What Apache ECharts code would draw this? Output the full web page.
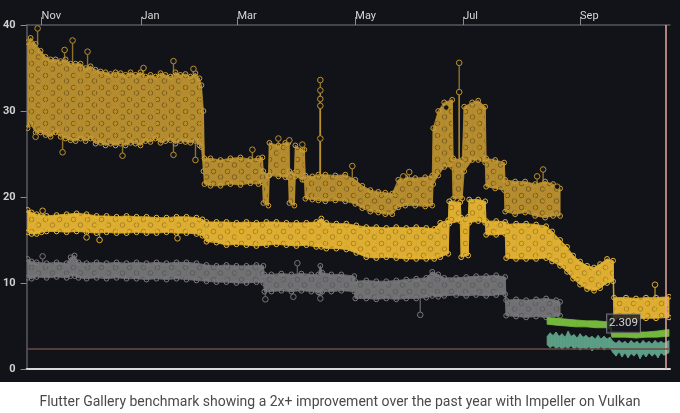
<!DOCTYPE html>
<html>
<head>
<meta charset="utf-8">
<script src="https://cdn.jsdelivr.net/npm/echarts@6/dist/echarts.min.js"></script>
<style>html,body{margin:0;padding:0;background:#fff}#c{width:680px;height:413px}</style>
</head>
<body>
<div id="c"></div>
<script>
// ---- x axis (commit index) ticks and labels ----
const monthTickIdx = [15, 115, 211, 329, 437, 554];
const monthLabels = ['Nov', 'Jan', 'Mar', 'May', 'Jul', 'Sep'];
const yTicks = [0, 10, 20, 30, 40];
const caption = 'Flutter Gallery benchmark showing a 2x+ improvement over the past year with Impeller on Vulkan';

// ---- upper gold series (range of samples per commit window) ----
const goldX = [1,4,9,14,19,24,29,34,39,44,49,54,59,64,69,74,79,84,89,94,99,104,109,114,119,124,129,134,139,144,149,154,159,164,169,173,175,177,178,184,194,204,214,224,232,236,237,242,243,252,259,262,263,268,269,276,278,279,286,292,299,309,319,329,336,344,352,359,366,372,379,389,399,406,407,412,418,426,427,436,438,446,452,459,460,469,478,479,489,499,509,519,527,534];
const goldLow = [28,28.5,27.5,27.5,27.2,27,27.5,27,26.8,26.6,26.5,26.8,26.5,26.8,26.2,26.3,26,26.2,26,26.2,26,26.3,26.2,26,26.5,26.4,26.8,26.3,26.5,26.6,26.2,26.5,26.4,26.3,26.5,26,25.8,23,21.5,21.3,21.3,21.5,21.4,21.6,21.5,21.7,19.3,19,22.5,22.4,22.3,22.3,19.3,19,22.4,22,22,19.8,19.7,19.6,19.5,19.6,19.5,19.2,18.7,18.3,18.2,18,18,18.8,19,19,18.9,19,21.5,22.5,23.5,23.5,19.8,19.8,23,24.3,24.3,24,21.2,21,20.8,18.3,18,18.2,17.8,17.6,17.8,17.8];
const goldHigh = [38,38.5,37.8,37,36.3,36,36,35.8,36,35.5,35.5,35.5,35,35.2,34.8,34.6,34.5,34.3,34.5,34.4,34.2,34.5,34.2,34.5,34,34.2,34,34.4,34.2,34,34.5,34.2,34.3,34,34.4,33.8,33,30,24.5,24.5,24.3,24.5,24.6,24.4,24.5,24.6,23,22.5,26.3,26,26.3,26.3,23,22.8,26,25.5,25.5,22.5,22.4,22.6,22.6,22.5,22.6,22,21.3,20.8,20.6,20.5,20.4,22,22.3,22.2,22.3,22.5,28,30,31,31.3,24.5,24.3,30.5,31,31.2,30.5,24.5,24.3,24,22,21.8,21.8,21.5,21.8,21.5,21];
const goldOutX = [9,11,36,38,46,61,96,117,147,147,167,169,226,252,263,276,294,294,294,294,294,326,377,383,420,433,433,511,517,531];
const goldOutY = [27.0,39.6,25.2,37.1,38.2,36.9,24.8,35.0,35.8,24.9,34.9,24.3,25.5,26.8,26.6,26.1,33.6,32.4,31.4,30.6,26.8,23.6,22.4,22.9,30.4,35.6,32.2,22.4,23.2,21.2];

// ---- lower yellow series ----
const yelX = [1,5,10,15,20,30,40,50,60,70,80,90,100,110,120,130,140,150,160,170,176,180,190,200,210,220,230,240,250,260,270,280,290,295,300,310,320,330,340,350,360,370,380,390,400,408,414,422,423,434,435,442,443,452,459,460,470,479,480,490,500,510,520,526,534,541,547,554,561,568,574,581,587,588,600,610,620,630,643];
const yelLow = [15.9,15.7,15.7,15.9,16,16,15.9,16,15.9,15.8,15.9,15.8,15.8,15.9,15.8,15.8,15.9,15.8,15.8,15.7,15.5,14.8,14.7,14.4,14.5,14.4,14.3,14.4,14.5,14.4,14.3,14.4,14.2,14.2,14,14,13.9,13.5,13,12.9,13,12.9,12.8,12.8,12.8,12.8,13,13.4,16.9,17.2,13,13.2,17,17.2,17,15.6,15.6,15.7,12.9,12.8,12.8,12.8,12.9,12.5,12,11.3,10.5,9.8,9.3,9.1,9.4,10,10.2,5.9,6,5.8,5.9,5.9,6];
const yelHigh = [18.5,18.2,18,17.9,17.8,17.9,18,18.1,18,17.8,17.8,17.7,17.8,17.7,17.7,17.6,17.6,17.7,17.7,17.6,17.4,17.1,17.1,17.1,17,17.1,17,17.1,17.1,17,17,17,17.1,17.5,17,16.9,16.9,16.7,16.5,16.5,16.4,16.5,16.4,16.5,16.4,16.3,17,17.3,19.5,19.4,17.6,17.7,19.7,19.7,19.5,17.2,17.2,17.1,16.8,16.9,16.9,16.8,16.6,16,15,14.2,13.2,12.5,12,11.8,12.2,12.8,12.6,8.3,8.3,8.2,8.3,8.3,8.4];
const yelOutX = [16,60,73,151,629];
const yelOutY = [18.4,15.3,15.0,15.2,9.8];

// ---- gray series ----
const grayX = [1,5,10,20,30,40,44,48,52,60,70,80,90,100,110,120,130,140,150,160,170,180,190,200,210,220,230,237,238,245,255,265,275,285,292,294,296,305,315,328,329,340,350,360,370,380,390,400,406,412,418,430,440,450,460,470,479,480,490,500,510,520,530,534];
const grayLow = [10.6,10.5,10.7,10.6,10.7,10.6,10.8,10.8,10.6,10.5,10.6,10.5,10.6,10.5,10.5,10.4,10.5,10.4,10.5,10.4,10.3,10.2,10.1,10.1,10,10,10.1,10,9,9,9.1,9,9.1,9,8.9,8.8,9,9,9.1,9,8.2,8.2,8.1,8.2,8.1,8.2,8.2,8.3,8.5,8.4,8.5,8.6,8.5,8.6,8.5,8.6,8.7,6.2,6.1,6,6.1,6,6.1,6.2];
const grayHigh = [12.8,12.5,12.4,12.3,12.4,12.3,13,13.2,12.4,12.3,12.4,12.3,12.4,12.3,12.4,12.3,12.4,12.3,12.4,12.4,12.3,12.1,12,12.1,12,12,12.1,12,11,11,11.1,11,11.1,11,11,12,11.2,11,11,10.8,10.2,10.3,10.2,10.2,10.3,10.4,10.5,10.6,11.3,11,10.6,10.6,10.7,10.8,10.8,10.9,10.7,8,8.1,8,8.1,8.2,8,7.8];
const grayOutX = [16,239,267,271,294,394];
const grayOutY = [13.1,8.1,8.4,12.3,8.2,6.3];

// ---- green series ----
const greenX = [521,530,540,550,560,570,580,584,586,600,610,620,630,643];
const greenLow = [5.2,5.1,5.0,4.9,4.9,4.8,4.8,4.7,3.7,3.7,3.6,3.7,3.7,3.8];
const greenHigh = [6.0,5.9,5.8,5.7,5.6,5.6,5.5,5.5,4.4,4.3,4.3,4.3,4.4,4.6];

// ---- teal series ----
const tealX = [521,524,527,530,533,536,539,542,545,548,551,554,557,560,563,566,569,572,575,578,581,584,587,590,593,596,599,602,605,608,611,614,617,620,623,626,629,632,635,638,643];
const tealLow = [2.8,2.5,2.7,2.4,2.6,2.3,2.6,2.4,2.7,2.3,2.6,2.2,2.5,2.3,2.6,2.1,2.5,2.3,2.6,2.2,2.5,2.4,1.9,1.5,2.0,1.4,1.9,1.3,1.8,1.5,1.9,1.2,1.8,1.4,1.9,1.5,1.8,1.3,1.9,1.6,1.9];
const tealHigh = [3.8,4.2,3.9,4.3,3.8,4.1,3.7,4.4,3.8,4.0,3.6,4.1,3.7,3.9,3.6,3.8,3.5,3.9,3.5,3.8,3.5,3.7,3.2,3.0,3.3,3.0,3.2,2.9,3.3,3.0,3.2,2.9,3.3,3.0,3.2,2.9,3.3,3.0,3.2,3.0,3.3];

// ---- crosshair / readout ----
const crossX = [640];
const crossY = [2.309];
const readout = [[597.5, 5.29, '2.309']];

// subtle texture tile (style only)
function makePattern(base, dark) {
  const c = document.createElement('canvas');
  c.width = 14; c.height = 12;
  const g = c.getContext('2d');
  g.fillStyle = base; g.fillRect(0, 0, 14, 12);
  g.strokeStyle = dark; g.lineWidth = 1;
  g.beginPath(); g.arc(3.5, 3.5, 2.3, 0, Math.PI * 2); g.stroke();
  g.beginPath(); g.arc(10.5, 9, 2.3, 0, Math.PI * 2); g.stroke();
  return { image: c, repeat: 'repeat' };
}

function makeBand(name, xs, lo, hi, fill, pattern, ring, r) {
  const data = xs.slice(0, -1).map((x, i) => [x, lo[i], hi[i], xs[i + 1], lo[i + 1], hi[i + 1]]);
  const last = data.length - 1;
  return {
    name, type: 'custom', clip: true, data, z: 2,
    encode: { x: [0, 3], y: [1, 2, 4, 5] },
    renderItem(params, api) {
      const a = api.coord([api.value(0), api.value(1)]);
      const b = api.coord([api.value(3), api.value(4)]);
      const c = api.coord([api.value(3), api.value(5)]);
      const d = api.coord([api.value(0), api.value(2)]);
      const children = [{
        type: 'polygon', shape: { points: [a, b, c, d] },
        style: { fill: pattern || fill, stroke: fill, lineWidth: 0.8 }
      }];
      if (r) {
        const pts = params.dataIndex === last ? [a, d, b, c] : [a, d];
        pts.forEach(p => children.push({
          type: 'circle', shape: { cx: p[0], cy: p[1], r },
          style: { fill: 'none', stroke: ring, lineWidth: 1 }
        }));
      }
      return { type: 'group', children };
    }
  };
}

function makeOutliers(name, ox, oy, xs, lo, hi, color) {
  const data = ox.map((x, i) => {
    let j = 0, best = Infinity;
    xs.forEach((v, k) => { const dd = Math.abs(v - x); if (dd < best) { best = dd; j = k; } });
    const y = oy[i];
    const base = y > hi[j] ? hi[j] : (y < lo[j] ? lo[j] : y);
    return [x, y, base];
  });
  return {
    name, type: 'custom', clip: true, data, z: 3,
    encode: { x: 0, y: [1, 2] },
    renderItem(params, api) {
      const p = api.coord([api.value(0), api.value(1)]);
      const q = api.coord([api.value(0), api.value(2)]);
      return {
        type: 'group', children: [
          { type: 'line', shape: { x1: p[0], y1: p[1], x2: q[0], y2: q[1] }, style: { stroke: color, lineWidth: 1.4, opacity: 0.75 } },
          { type: 'circle', shape: { cx: p[0], cy: p[1], r: 2.8 }, style: { fill: '#15151b', stroke: color, lineWidth: 1 } }
        ]
      };
    }
  };
}

const chart = echarts.init(document.getElementById('c'), null, { renderer: 'canvas' });
const goldPat = makePattern('#b58d30', '#7a5c1e');
const yelPat = makePattern('#ddae31', '#aa821f');
const grayPat = makePattern('#717173', '#5c5c5f');

chart.setOption({
  backgroundColor: '#121319',
  animation: false,
  textStyle: { fontFamily: 'Roboto, sans-serif' },
  grid: { left: 26, right: 10, top: 25, bottom: 44 },
  xAxis: [{
    type: 'value', position: 'top', min: 0, max: 644,
    axisLine: { show: true, onZero: false, lineStyle: { color: '#55565c', width: 1.5 } },
    axisTick: { show: true, customValues: monthTickIdx, length: 8, lineStyle: { color: '#8c8c8c' } },
    axisLabel: {
      show: true, customValues: monthTickIdx,
      formatter: v => monthLabels[monthTickIdx.indexOf(v)] || '',
      align: 'left', margin: 3, color: '#d6d6d6', fontSize: 11
    },
    splitLine: { show: false }
  }, {
    type: 'value', position: 'bottom', min: 0, max: 644,
    axisLine: { show: true, onZero: false, lineStyle: { color: '#d9d9d9', width: 2 } },
    axisTick: { show: false }, axisLabel: { show: false }, splitLine: { show: false }
  }],
  yAxis: {
    type: 'value', min: yTicks[0], max: yTicks[yTicks.length - 1], interval: 10,
    axisLine: { show: true, lineStyle: { color: '#5a5b60', width: 1.5 } },
    axisTick: { show: true, length: 6, lineStyle: { color: '#8c8c8c' } },
    axisLabel: { color: '#d0d0d0', fontSize: 11, fontWeight: 'bold', margin: 11 },
    splitLine: { show: false }
  },
  graphic: [
    { type: 'rect', left: 0, top: 382, z: 100, shape: { width: 680, height: 31 }, style: { fill: '#ffffff' } },
    { type: 'text', left: 'center', top: 395, z: 101, style: { text: caption, fill: '#4a4a4a', font: '14px Roboto' } }
  ],
  series: [
    makeBand('gold', goldX, goldLow, goldHigh, '#b58d30', goldPat, '#c9a03b', 2.4),
    makeOutliers('goldOut', goldOutX, goldOutY, goldX, goldLow, goldHigh, '#b8902f'),
    makeBand('yellow', yelX, yelLow, yelHigh, '#ddae31', yelPat, '#e6b83a', 2.4),
    makeOutliers('yelOut', yelOutX, yelOutY, yelX, yelLow, yelHigh, '#d8a92f'),
    makeBand('gray', grayX, grayLow, grayHigh, '#717173', grayPat, '#7c7c7e', 2.4),
    makeOutliers('grayOut', grayOutX, grayOutY, grayX, grayLow, grayHigh, '#767678'),
    makeBand('green', greenX, greenLow, greenHigh, '#74b83b', null, '#74b83b', 0),
    makeBand('teal', tealX, tealLow, tealHigh, '#5c9e86', null, '#5c9e86', 0),
    {
      name: 'readout', type: 'scatter', z: 10, symbolSize: 0,
      data: readout,
      label: {
        show: true, position: 'inside', formatter: p => p.value[2],
        color: '#ffffff', fontSize: 11.5, backgroundColor: '#17171e',
        borderColor: '#8a8a8e', borderWidth: 1, padding: [3, 2]
      },
      markLine: {
        silent: true, symbol: ['none', 'none'], label: { show: false },
        data: [
          { xAxis: crossX[0], lineStyle: { color: '#e3a89f', width: 1.5, type: 'solid' } },
          { yAxis: crossY[0], lineStyle: { color: '#6b4d44', width: 1.5, type: 'solid' } }
        ]
      }
    }
  ]
});
</script>
</body>
</html>
